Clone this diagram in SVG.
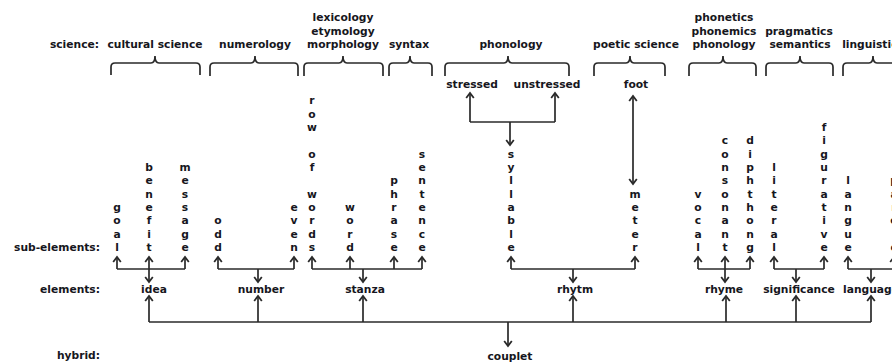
<svg xmlns="http://www.w3.org/2000/svg" width="892" height="362" viewBox="0 0 892 362">
<style>
.t{font-family:"DejaVu Sans",Verdana,sans-serif;font-weight:bold;font-size:10.7px;fill:#161620;text-anchor:middle}
.l{text-anchor:end}
.c{stroke:#2a2a2a;stroke-width:1.7;fill:none}
.b{stroke:#2a2a2a;stroke-width:1.7;fill:none}
</style>
<defs>
<marker id="ah" markerUnits="userSpaceOnUse" markerWidth="12" markerHeight="12" refX="0" refY="0" viewBox="-8 -6 10 12" orient="auto-start-reverse" overflow="visible">
<path d="M-5,-3.8 L0,0 L-5,3.8" fill="none" stroke="#2a2a2a" stroke-width="1.8"/>
</marker>
</defs>
<rect width="892" height="362" fill="#fff"/>

<g id="row-labels">
<text class="t l" x="99" y="48">science:</text>
<text class="t l" x="100" y="251">sub-elements:</text>
<text class="t l" x="100" y="292.5">elements:</text>
<text class="t l" x="100" y="359">hybrid:</text>
</g>

<g id="sciences">
<g id="sci-cultural"><text class="t" x="155" y="48">cultural science</text><path class="b" d="M111,75 L111,67 Q111,63 115,63 L151,63 Q155,63 155,56 Q155,63 159,63 L196,63 Q200,63 200,67 L200,75"/></g>
<g id="sci-numerology"><text class="t" x="255" y="48">numerology</text><path class="b" d="M210,76 L210,67 Q210,63 214,63 L251,63 Q255,63 255,56 Q255,63 259,63 L294,63 Q298,63 298,67 L298,76"/></g>
<g id="sci-lexicology"><text class="t" x="343" y="21.4">lexicology</text><text class="t" x="343" y="34.7">etymology</text><text class="t" x="343" y="48">morphology</text><path class="b" d="M304,76 L304,67 Q304,63 308,63 L339,63 Q343,63 343,56 Q343,63 347,63 L379,63 Q383,63 383,67 L383,76"/></g>
<g id="sci-syntax"><text class="t" x="409" y="48">syntax</text><path class="b" d="M389,76 L389,67 Q389,63 393,63 L406,63 Q410,63 410,56 Q410,63 414,63 L428,63 Q432,63 432,67 L432,76"/></g>
<g id="sci-phonology"><text class="t" x="511" y="48">phonology</text><path class="b" d="M445,76 L445,67 Q445,63 449,63 L504,63 Q508,63 508,56 Q508,63 512,63 L565,63 Q569,63 569,67 L569,76"/></g>
<g id="sci-poetic"><text class="t" x="636" y="48">poetic science</text><path class="b" d="M594,76 L594,67 Q594,63 598,63 L626,63 Q630,63 630,56 Q630,63 634,63 L661,63 Q665,63 665,67 L665,76"/></g>
<g id="sci-phonetics"><text class="t" x="724" y="21.4">phonetics</text><text class="t" x="724" y="34.7">phonemics</text><text class="t" x="724" y="48">phonology</text><path class="b" d="M689,76 L689,67 Q689,63 693,63 L719,63 Q723,63 723,56 Q723,63 727,63 L752,63 Q756,63 756,67 L756,76"/></g>
<g id="sci-pragmatics"><text class="t" x="799" y="34.7">pragmatics</text><text class="t" x="800" y="48">semantics</text><path class="b" d="M766,76 L766,67 Q766,63 770,63 L796,63 Q800,63 800,56 Q800,63 804,63 L829,63 Q833,63 833,67 L833,76"/></g>
<g id="sci-linguistics"><text class="t" x="873" y="48">linguistics</text><path class="b" d="M843,76 L843,67 Q843,63 847,63 L869,63 Q873,63 873,56 Q873,63 877,63 L899,63 Q903,63 903,67 L903,76"/></g>
</g>

<g id="phon-elements">
<g id="stressed"><text class="t" x="472" y="87.5">stressed</text></g>
<g id="unstressed"><text class="t" x="547" y="87.5">unstressed</text></g>
<g id="foot"><text class="t" x="636" y="87.5">foot</text></g>
</g>

<g id="sub-elements">
<g id="goal"><text class="t"><tspan x="117" y="211">g</tspan><tspan x="117" y="224.3">o</tspan><tspan x="117" y="237.7">a</tspan><tspan x="117" y="251">l</tspan></text></g>
<g id="benefit"><text class="t"><tspan x="149" y="171">b</tspan><tspan x="149" y="184.3">e</tspan><tspan x="149" y="197.7">n</tspan><tspan x="149" y="211">e</tspan><tspan x="149" y="224.3">f</tspan><tspan x="149" y="237.7">i</tspan><tspan x="149" y="251">t</tspan></text></g>
<g id="message"><text class="t"><tspan x="185" y="171">m</tspan><tspan x="185" y="184.3">e</tspan><tspan x="185" y="197.7">s</tspan><tspan x="185" y="211">s</tspan><tspan x="185" y="224.3">a</tspan><tspan x="185" y="237.7">g</tspan><tspan x="185" y="251">e</tspan></text></g>
<g id="odd"><text class="t"><tspan x="218" y="224.3">o</tspan><tspan x="218" y="237.7">d</tspan><tspan x="218" y="251">d</tspan></text></g>
<g id="even"><text class="t"><tspan x="294" y="211">e</tspan><tspan x="294" y="224.3">v</tspan><tspan x="294" y="237.7">e</tspan><tspan x="294" y="251">n</tspan></text></g>
<g id="row-of-words"><text class="t"><tspan x="312" y="104.3">r</tspan><tspan x="312" y="117.7">o</tspan><tspan x="312" y="131">w</tspan><tspan x="312" y="157.7">o</tspan><tspan x="312" y="171">f</tspan><tspan x="312" y="197.7">w</tspan><tspan x="312" y="211">o</tspan><tspan x="312" y="224.3">r</tspan><tspan x="312" y="237.7">d</tspan><tspan x="312" y="251">s</tspan></text></g>
<g id="word"><text class="t"><tspan x="350" y="211">w</tspan><tspan x="350" y="224.3">o</tspan><tspan x="350" y="237.7">r</tspan><tspan x="350" y="251">d</tspan></text></g>
<g id="phrase"><text class="t"><tspan x="394" y="184.3">p</tspan><tspan x="394" y="197.7">h</tspan><tspan x="394" y="211">r</tspan><tspan x="394" y="224.3">a</tspan><tspan x="394" y="237.7">s</tspan><tspan x="394" y="251">e</tspan></text></g>
<g id="sentence"><text class="t"><tspan x="422" y="157.7">s</tspan><tspan x="422" y="171">e</tspan><tspan x="422" y="184.3">n</tspan><tspan x="422" y="197.7">t</tspan><tspan x="422" y="211">e</tspan><tspan x="422" y="224.3">n</tspan><tspan x="422" y="237.7">c</tspan><tspan x="422" y="251">e</tspan></text></g>
<g id="syllable"><text class="t"><tspan x="511" y="157.7">s</tspan><tspan x="511" y="171">y</tspan><tspan x="511" y="184.3">l</tspan><tspan x="511" y="197.7">l</tspan><tspan x="511" y="211">a</tspan><tspan x="511" y="224.3">b</tspan><tspan x="511" y="237.7">l</tspan><tspan x="511" y="251">e</tspan></text></g>
<g id="meter"><text class="t"><tspan x="635" y="197.7">m</tspan><tspan x="635" y="211">e</tspan><tspan x="635" y="224.3">t</tspan><tspan x="635" y="237.7">e</tspan><tspan x="635" y="251">r</tspan></text></g>
<g id="vocal"><text class="t"><tspan x="698" y="197.7">v</tspan><tspan x="698" y="211">o</tspan><tspan x="698" y="224.3">c</tspan><tspan x="698" y="237.7">a</tspan><tspan x="698" y="251">l</tspan></text></g>
<g id="consonant"><text class="t"><tspan x="725" y="144.3">c</tspan><tspan x="725" y="157.7">o</tspan><tspan x="725" y="171">n</tspan><tspan x="725" y="184.3">s</tspan><tspan x="725" y="197.7">o</tspan><tspan x="725" y="211">n</tspan><tspan x="725" y="224.3">a</tspan><tspan x="725" y="237.7">n</tspan><tspan x="725" y="251">t</tspan></text></g>
<g id="diphthong"><text class="t"><tspan x="750" y="144.3">d</tspan><tspan x="750" y="157.7">i</tspan><tspan x="750" y="171">p</tspan><tspan x="750" y="184.3">h</tspan><tspan x="750" y="197.7">t</tspan><tspan x="750" y="211">h</tspan><tspan x="750" y="224.3">o</tspan><tspan x="750" y="237.7">n</tspan><tspan x="750" y="251">g</tspan></text></g>
<g id="literal"><text class="t"><tspan x="774" y="171">l</tspan><tspan x="774" y="184.3">i</tspan><tspan x="774" y="197.7">t</tspan><tspan x="774" y="211">e</tspan><tspan x="774" y="224.3">r</tspan><tspan x="774" y="237.7">a</tspan><tspan x="774" y="251">l</tspan></text></g>
<g id="figurative"><text class="t"><tspan x="824" y="131">f</tspan><tspan x="824" y="144.3">i</tspan><tspan x="824" y="157.7">g</tspan><tspan x="824" y="171">u</tspan><tspan x="824" y="184.3">r</tspan><tspan x="824" y="197.7">a</tspan><tspan x="824" y="211">t</tspan><tspan x="824" y="224.3">i</tspan><tspan x="824" y="237.7">v</tspan><tspan x="824" y="251">e</tspan></text></g>
<g id="langue"><text class="t"><tspan x="848" y="184.3">l</tspan><tspan x="848" y="197.7">a</tspan><tspan x="848" y="211">n</tspan><tspan x="848" y="224.3">g</tspan><tspan x="848" y="237.7">u</tspan><tspan x="848" y="251">e</tspan></text></g>
<g id="parole"><text class="t"><tspan x="894" y="184.3">p</tspan><tspan x="894" y="197.7">a</tspan><tspan x="894" y="211">r</tspan><tspan x="894" y="224.3">o</tspan><tspan x="894" y="237.7">l</tspan><tspan x="894" y="251">e</tspan></text></g>
</g>

<g id="elements">
<g id="idea"><text class="t" x="154" y="292.5">idea</text></g>
<g id="number"><text class="t" x="261" y="292.5">number</text></g>
<g id="stanza"><text class="t" x="365" y="292.5">stanza</text></g>
<g id="rhytm"><text class="t" x="575" y="292.5">rhytm</text></g>
<g id="rhyme"><text class="t" x="724" y="292.5">rhyme</text></g>
<g id="significance"><text class="t" x="799" y="292.5">significance</text></g>
<g id="language"><text class="t" x="871" y="292.5">language</text></g>
</g>

<g id="couplet"><text class="t" x="510" y="360">couplet</text></g>

<g id="connectors">
<path class="c" d="M470,122 L470,93" marker-end="url(#ah)"/>
<path class="c" d="M555,122 L555,93" marker-end="url(#ah)"/>
<path class="c" d="M470,122 L555,122"/>
<path class="c" d="M510,122 L510,145" marker-end="url(#ah)"/>
<path class="c" d="M633,96 L633,184" marker-start="url(#ah)" marker-end="url(#ah)"/>
<path class="c" d="M117,269 L185,269"/>
<path class="c" d="M117,269 L117,257" marker-end="url(#ah)"/>
<path class="c" d="M149,269 L149,257" marker-end="url(#ah)"/>
<path class="c" d="M185,269 L185,257" marker-end="url(#ah)"/>
<path class="c" d="M149,269 L149,282" marker-end="url(#ah)"/>
<path class="c" d="M218,269 L294,269"/>
<path class="c" d="M218,269 L218,257" marker-end="url(#ah)"/>
<path class="c" d="M294,269 L294,257" marker-end="url(#ah)"/>
<path class="c" d="M258,269 L258,282" marker-end="url(#ah)"/>
<path class="c" d="M312,269 L422,269"/>
<path class="c" d="M312,269 L312,257" marker-end="url(#ah)"/>
<path class="c" d="M350,269 L350,257" marker-end="url(#ah)"/>
<path class="c" d="M394,269 L394,257" marker-end="url(#ah)"/>
<path class="c" d="M422,269 L422,257" marker-end="url(#ah)"/>
<path class="c" d="M363,269 L363,282" marker-end="url(#ah)"/>
<path class="c" d="M511,269 L635,269"/>
<path class="c" d="M511,269 L511,257" marker-end="url(#ah)"/>
<path class="c" d="M635,269 L635,257" marker-end="url(#ah)"/>
<path class="c" d="M573,269 L573,282" marker-end="url(#ah)"/>
<path class="c" d="M698,269 L750,269"/>
<path class="c" d="M698,269 L698,257" marker-end="url(#ah)"/>
<path class="c" d="M725,269 L725,257" marker-end="url(#ah)"/>
<path class="c" d="M750,269 L750,257" marker-end="url(#ah)"/>
<path class="c" d="M725,269 L725,282" marker-end="url(#ah)"/>
<path class="c" d="M774,269 L824,269"/>
<path class="c" d="M774,269 L774,257" marker-end="url(#ah)"/>
<path class="c" d="M824,269 L824,257" marker-end="url(#ah)"/>
<path class="c" d="M796,269 L796,282" marker-end="url(#ah)"/>
<path class="c" d="M848,269 L894,269"/>
<path class="c" d="M848,269 L848,257" marker-end="url(#ah)"/>
<path class="c" d="M894,269 L894,257" marker-end="url(#ah)"/>
<path class="c" d="M871,269 L871,282" marker-end="url(#ah)"/>
<path class="c" d="M149,322 L871,322"/>
<path class="c" d="M149,322 L149,296" marker-end="url(#ah)"/>
<path class="c" d="M258,322 L258,296" marker-end="url(#ah)"/>
<path class="c" d="M363,322 L363,296" marker-end="url(#ah)"/>
<path class="c" d="M573,322 L573,296" marker-end="url(#ah)"/>
<path class="c" d="M726,322 L726,296" marker-end="url(#ah)"/>
<path class="c" d="M796,322 L796,296" marker-end="url(#ah)"/>
<path class="c" d="M871,322 L871,296" marker-end="url(#ah)"/>
<path class="c" d="M508,322 L508,346" marker-end="url(#ah)"/>
</g>
</svg>
